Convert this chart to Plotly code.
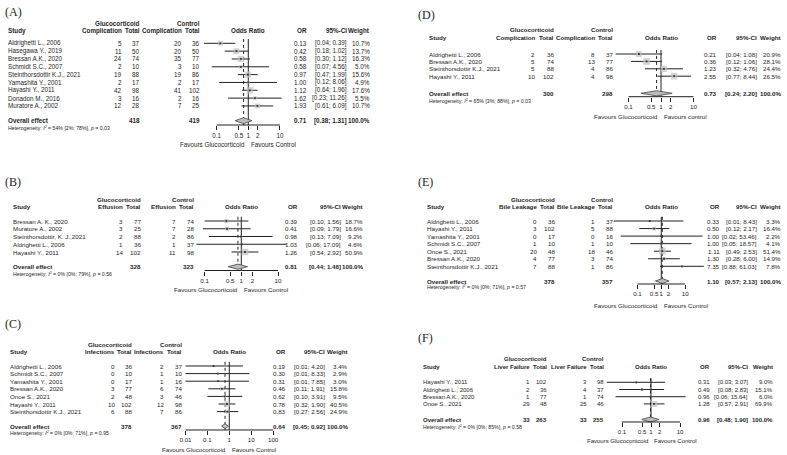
import plotly.graph_objects as go

W, H = 787, 455
SANS = "Liberation Sans, Arial, sans-serif"
SERIF = "Liberation Serif, Times New Roman, serif"
INK = "#1e1e1e"

# ---------------- data ----------------
# (A) Complication
A_study = ["Aldrighetti L., 2006", "Hasegawa Y., 2019", "Bressan A.K., 2020", "Schmidt S.C., 2007",
           "Steinthorsdottir K.J., 2021", "Yamashita Y., 2001", "Hayashi Y., 2011", "Donadon M., 2016",
           "Muratore A., 2002"]
A_gc_events = [5, 11, 24, 2, 19, 2, 42, 3, 12]
A_gc_total = [37, 50, 74, 10, 88, 17, 98, 16, 28]
A_ct_events = [20, 20, 35, 3, 19, 2, 41, 2, 7]
A_ct_total = [36, 50, 77, 10, 86, 17, 102, 16, 25]
A_or = [0.13, 0.42, 0.58, 0.58, 0.97, 1.00, 1.12, 1.62, 1.93]
A_lo = [0.04, 0.18, 0.30, 0.07, 0.47, 0.12, 0.64, 0.23, 0.61]
A_hi = [0.39, 1.02, 1.12, 4.56, 1.99, 8.06, 1.96, 11.26, 6.09]
A_weight = [10.7, 13.7, 16.3, 5.0, 15.6, 4.9, 17.6, 5.5, 10.7]
A_overall = [0.71, 0.38, 1.31]
A_het = [54, 2, 78, 0.03]
A_ticks = [0.1, 0.5, 1, 2, 10]

# (B) Effusion
B_study = ["Bressan A. K., 2020", "Muratore A., 2002", "Steinthorsdottir, K. J.,2021",
           "Aldrighetti L., 2006", "Hayashi Y., 2011"]
B_gc_events = [3, 3, 2, 1, 14]
B_gc_total = [77, 25, 88, 36, 102]
B_ct_events = [7, 7, 2, 1, 11]
B_ct_total = [74, 28, 86, 37, 98]
B_or = [0.39, 0.41, 0.98, 1.03, 1.26]
B_lo = [0.10, 0.09, 0.13, 0.06, 0.54]
B_hi = [1.56, 1.79, 7.09, 17.09, 2.92]
B_weight = [18.7, 16.6, 9.2, 4.6, 50.9]
B_overall = [0.81, 0.44, 1.48]
B_het = [0, 0, 79, 0.56]
B_ticks = [0.1, 0.5, 1, 2, 10]

# (C) Infections
C_study = ["Aldrighetti L., 2006", "Schmidt S.C., 2007", "Yamashita Y., 2001", "Bressan A.K., 2020",
           "Onoe S., 2021", "Hayashi Y., 2011", "Steinthorsdottir K.J., 2021"]
C_gc_events = [0, 0, 0, 3, 2, 10, 6]
C_gc_total = [36, 10, 17, 77, 48, 102, 88]
C_ct_events = [2, 1, 1, 6, 3, 12, 7]
C_ct_total = [37, 10, 16, 74, 46, 98, 86]
C_or = [0.19, 0.30, 0.31, 0.46, 0.62, 0.78, 0.83]
C_lo = [0.01, 0.01, 0.01, 0.11, 0.10, 0.32, 0.27]
C_hi = [4.20, 8.33, 7.85, 1.91, 3.91, 1.90, 2.56]
C_weight = [3.4, 2.9, 3.0, 15.8, 9.5, 40.5, 24.9]
C_overall = [0.64, 0.45, 0.92]
C_het = [0, 0, 71, 0.95]
C_ticks = [0.01, 0.1, 1, 10, 100]

# (D) Complication
D_study = ["Aldrighetti L., 2006", "Bressan A.K., 2020", "Steinthorsdottir K.J., 2021", "Hayashi Y., 2011"]
D_gc_events = [2, 5, 5, 10]
D_gc_total = [36, 74, 88, 102]
D_ct_events = [8, 13, 4, 4]
D_ct_total = [37, 77, 86, 98]
D_or = [0.21, 0.36, 1.23, 2.55]
D_lo = [0.04, 0.12, 0.32, 0.77]
D_hi = [1.08, 1.06, 4.76, 8.44]
D_weight = [20.9, 28.1, 24.4, 26.5]
D_overall = [0.73, 0.24, 2.20]
D_het = [65, 3, 88, 0.03]
D_ticks = [0.1, 0.5, 1, 2, 10]

# (E) Bile Leakage
E_study = ["Aldrighetti L., 2006", "Hayashi Y., 2011", "Yamashita Y., 2001", "Schmidt S.C., 2007",
           "Onoe S., 2021", "Bressan A.K., 2020", "Steinthorsdottir K.J., 2021"]
E_gc_events = [0, 3, 0, 1, 20, 4, 7]
E_gc_total = [36, 102, 17, 10, 48, 77, 88]
E_ct_events = [1, 5, 0, 1, 18, 3, 1]
E_ct_total = [37, 88, 16, 10, 46, 74, 86]
E_or = [0.33, 0.50, 1.00, 1.00, 1.11, 1.30, 7.35]
E_lo = [0.01, 0.12, 0.02, 0.05, 0.49, 0.28, 0.88]
E_hi = [8.43, 2.17, 53.46, 18.57, 2.53, 6.00, 61.03]
E_weight = [3.3, 16.4, 2.2, 4.1, 51.4, 14.9, 7.8]
E_overall = [1.10, 0.57, 2.13]
E_het = [0, 0, 71, 0.57]
E_ticks = [0.1, 0.5, 1, 2, 10]

# (F) Liver Failure
F_study = ["Hayashi Y., 2011", "Aldrighetti L., 2006", "Bressan A.K., 2020", "Onoe S., 2021"]
F_gc_events = [1, 2, 1, 29]
F_gc_total = [102, 36, 77, 48]
F_ct_events = [3, 4, 1, 25]
F_ct_total = [98, 37, 74, 46]
F_or = [0.31, 0.49, 0.96, 1.28]
F_lo = [0.03, 0.08, 0.06, 0.57]
F_hi = [3.07, 2.83, 15.64, 2.91]
F_weight = [9.0, 15.1, 6.0, 69.9]
F_overall = [0.96, 0.48, 1.90]
F_het = [0, 0, 85, 0.58]
F_ticks = [0.1, 0.5, 1, 2, 10]

panels = [
    dict(key="A", label="(A)", event="Complication", study=A_study, ge=A_gc_events, gt=A_gc_total,
         ce=A_ct_events, ct=A_ct_total, orr=A_or, lo=A_lo, hi=A_hi, w=A_weight, overall=A_overall,
         het=A_het, ticks=A_ticks, fav=("Favours Glucocorticoid", "Favours Control"), event_sum=False),
    dict(key="B", label="(B)", event="Effusion", study=B_study, ge=B_gc_events, gt=B_gc_total,
         ce=B_ct_events, ct=B_ct_total, orr=B_or, lo=B_lo, hi=B_hi, w=B_weight, overall=B_overall,
         het=B_het, ticks=B_ticks, fav=("Favours Glucocorticoid", "Favours Control"), event_sum=False),
    dict(key="C", label="(C)", event="Infections", study=C_study, ge=C_gc_events, gt=C_gc_total,
         ce=C_ct_events, ct=C_ct_total, orr=C_or, lo=C_lo, hi=C_hi, w=C_weight, overall=C_overall,
         het=C_het, ticks=C_ticks, fav=("Favours Glucocorticoid", "Favours Control"), event_sum=False),
    dict(key="D", label="(D)", event="Complication", study=D_study, ge=D_gc_events, gt=D_gc_total,
         ce=D_ct_events, ct=D_ct_total, orr=D_or, lo=D_lo, hi=D_hi, w=D_weight, overall=D_overall,
         het=D_het, ticks=D_ticks, fav=("Favours Glucocorticoid", "Favours control"), event_sum=False),
    dict(key="E", label="(E)", event="Bile Leakage", study=E_study, ge=E_gc_events, gt=E_gc_total,
         ce=E_ct_events, ct=E_ct_total, orr=E_or, lo=E_lo, hi=E_hi, w=E_weight, overall=E_overall,
         het=E_het, ticks=E_ticks, fav=("Favours Glucocorticoid", "Favours Control"), event_sum=False),
    dict(key="F", label="(F)", event="Liver Failure", study=F_study, ge=F_gc_events, gt=F_gc_total,
         ce=F_ct_events, ct=F_ct_total, orr=F_or, lo=F_lo, hi=F_hi, w=F_weight, overall=F_overall,
         het=F_het, ticks=F_ticks, fav=("Favours Glucocorticoid", "Favours Control"), event_sum=True),
]

# ---------------- layout (pixel positions) ----------------
POS = {
    "A": dict(lab=(5, 12), fs=6.3, h1=23.3, h2=30.7, row0=43.3, dy=7.83, ov=120.7, het=128.3, axis=125.0,
              fav=144.5, xs=8, xge=122, xgt=140, xce=181.5, xct=200, xor=306.5, xci=347, xw=370,
              mid=248.3, dec=31.65, sq=6.5, dh=3.0),
    "B": dict(lab=(5, 181.7), fs=6.2, h1=199.3, h2=206.7, row0=221, dy=7.75, ov=266.7, het=274, axis=270.5,
              fav=289.3, xs=12.7, xge=123.3, xgt=140.7, xce=176, xct=194, xor=297.7, xci=340.7, xw=362.7,
              mid=241.3, dec=36.7, sq=6.7, dh=2.6),
    "C": dict(lab=(5, 324.3), fs=6.2, h1=344.3, h2=351.7, row0=366, dy=7.6, ov=426.2, het=433.3, axis=430,
              fav=449.5, xs=10, xge=115, xgt=132.3, xce=164, xct=181.7, xor=286, xci=325, xw=348.3,
              mid=229.3, dec=21.9, sq=5.5, dh=2.5),
    "D": dict(lab=(418.3, 15), fs=6.2, h1=30, h2=37, row0=54, dy=7.4, ov=93.3, het=101, axis=96.7,
              fav=116.3, xs=429.3, xge=535, xgt=554, xce=595, xct=613.3, xor=716.7, xci=756.7, xw=780.7,
              mid=661, dec=32.5, sq=6.7, dh=2.6),
    "E": dict(lab=(418.3, 181.7), fs=6.2, h1=199.3, h2=206.7, row0=221, dy=7.55, ov=281, het=287.3, axis=284,
              fav=305.7, xs=427.3, xge=537, xgt=555, xce=595, xct=613.3, xor=720, xci=757.3, xw=781,
              mid=661.3, dec=23.85, sq=6.7, dh=2.5),
    "F": dict(lab=(418.3, 337.7), fs=6.0, h1=359.3, h2=366.7, row0=382.3, dy=7.2, ov=419.5, het=427.3,
              axis=422, fav=441, xs=422.7, xge=529.5, xgt=547, xce=586.5, xct=604, xor=710, xci=748.3,
              xw=772.7, mid=651, dec=29, sq=6.0, dh=2.5),
}

LINE = "#222222"
SQ = "#c2c2c2"
DIA = "#bdbdbd"

fig = go.Figure()
annotations = []


def txt(x, y, s, anchor="left", size=6.2, bold=False, family=SANS):
    if bold:
        s = "<b>" + s + "</b>"
    annotations.append(dict(x=x / W, y=1 - y / H, xref="paper", yref="paper", text=s, showarrow=False,
                            xanchor=anchor, yanchor="middle", borderpad=0, borderwidth=0,
                            font=dict(size=size, family=family, color=INK)))


axes_layout = {}
RNG = 2.3
for k, p in enumerate(panels):
    c = POS[p["key"]]
    sfx = "" if k == 0 else str(k + 1)
    xa, ya = "x" + sfx, "y" + sfx
    n = len(p["study"])
    ys = [c["row0"] + i * c["dy"] for i in range(n)]
    top = c["row0"] - 0.55 * c["dy"]
    est, olo, ohi = p["overall"]
    fs = c["fs"]
    ytop, ybot = max(c["h1"] - 6, 0), min(c["fav"] + 5, H)

    common = dict(xaxis=xa, yaxis=ya, hoverinfo="skip", showlegend=False)
    # null line and overall (dotted) line
    fig.add_trace(go.Scatter(x=[1, 1], y=[top, c["axis"]], mode="lines",
                             line=dict(color=LINE, width=1), **common))
    fig.add_trace(go.Scatter(x=[est, est], y=[top, c["axis"]], mode="lines",
                             line=dict(color=LINE, width=1, dash="dot"), **common))
    # CI lines
    xl, yl = [], []
    for lo, hi, y in zip(p["lo"], p["hi"], ys):
        xl += [lo, hi, None]
        yl += [y, y, None]
    fig.add_trace(go.Scatter(x=xl, y=yl, mode="lines", line=dict(color=LINE, width=1), **common))
    # weight squares
    wmax = max(p["w"])
    sizes = [c["sq"] * (w / wmax) ** 0.5 for w in p["w"]]
    fig.add_trace(go.Scatter(x=p["orr"], y=ys, mode="markers",
                             marker=dict(symbol="square", size=sizes, color=SQ, line=dict(width=0)), **common))
    fig.add_trace(go.Scatter(x=p["orr"], y=ys, mode="markers",
                             marker=dict(symbol="square", size=1.8, color="#333", line=dict(width=0)), **common))
    # diamond
    oy = c["ov"]
    fig.add_trace(go.Scatter(x=[olo, est, ohi, est, olo], y=[oy, oy - c["dh"], oy, oy + c["dh"], oy],
                             mode="lines", fill="toself", fillcolor=DIA,
                             line=dict(color="#444", width=0.8), **common))
    # axis line
    fig.add_trace(go.Scatter(x=[min(p["ticks"]), max(p["ticks"])], y=[c["axis"], c["axis"]], mode="lines",
                             line=dict(color=LINE, width=1), **common))

    axes_layout["xaxis" + sfx] = dict(
        type="log", range=[-RNG, RNG],
        domain=[(c["mid"] - RNG * c["dec"]) / W, (c["mid"] + RNG * c["dec"]) / W],
        anchor="free", position=1 - c["axis"] / H,
        showline=False, showgrid=False, zeroline=False,
        tickmode="array", tickvals=p["ticks"], ticktext=["%g" % t for t in p["ticks"]],
        ticks="outside", ticklen=4, tickwidth=1, tickcolor=LINE, tickangle=0,
        tickfont=dict(size=fs, family=SANS, color=INK), fixedrange=True)
    axes_layout["yaxis" + sfx] = dict(
        range=[ybot, ytop], domain=[1 - ybot / H, 1 - ytop / H], anchor=xa,
        visible=False, fixedrange=True)

    # ---- text ----
    txt(c["lab"][0], c["lab"][1], p["label"], size=12, family=SERIF)
    txt(c["xgt"], c["h1"], "Glucocorticoid", "right", fs, True)
    txt(c["xct"], c["h1"], "Control", "right", fs, True)
    txt(c["xs"], c["h2"], "Study", "left", fs, True)
    txt(c["xge"], c["h2"], p["event"], "right", fs, True)
    txt(c["xgt"], c["h2"], "Total", "right", fs, True)
    txt(c["xce"], c["h2"], p["event"], "right", fs, True)
    txt(c["xct"], c["h2"], "Total", "right", fs, True)
    txt(c["mid"], c["h2"], "Odds Ratio", "center", fs, True)
    txt(c["xor"], c["h2"], "OR", "right", fs, True)
    txt(c["xci"], c["h2"], "95%-CI", "right", fs, True)
    txt(c["xw"], c["h2"], "Weight", "right", fs, True)
    for i in range(n):
        y = ys[i]
        txt(c["xs"], y, p["study"][i], "left", fs)
        txt(c["xge"], y, str(p["ge"][i]), "right", fs)
        txt(c["xgt"], y, str(p["gt"][i]), "right", fs)
        txt(c["xce"], y, str(p["ce"][i]), "right", fs)
        txt(c["xct"], y, str(p["ct"][i]), "right", fs)
        txt(c["xor"], y, "%.2f" % p["orr"][i], "right", fs)
        txt(c["xci"], y, "[%.2f; %.2f]" % (p["lo"][i], p["hi"][i]), "right", fs)
        txt(c["xw"], y, "%.1f%%" % p["w"][i], "right", fs)
    txt(c["xs"], oy, "Overall effect", "left", fs, True)
    if p["event_sum"]:
        txt(c["xge"], oy, str(sum(p["ge"])), "right", fs, True)
        txt(c["xce"], oy, str(sum(p["ce"])), "right", fs, True)
    txt(c["xgt"], oy, str(sum(p["gt"])), "right", fs, True)
    txt(c["xct"], oy, str(sum(p["ct"])), "right", fs, True)
    txt(c["xor"], oy, "%.2f" % est, "right", fs, True)
    txt(c["xci"], oy, "[%.2f; %.2f]" % (olo, ohi), "right", fs, True)
    txt(c["xw"], oy, "100.0%", "right", fs, True)
    i2, i2lo, i2hi, pv = p["het"]
    txt(c["xs"], c["het"],
        "Heterogeneity: <i>I</i><sup>2</sup> = %d%% [%d%%; %d%%], <i>p</i> = %.2f" % (i2, i2lo, i2hi, pv),
        "left", 5.2)
    txt(c["mid"] - 3, c["fav"], p["fav"][0], "right", fs)
    txt(c["mid"] + 3, c["fav"], p["fav"][1], "left", fs)

fig.update_layout(
    width=W, height=H, margin=dict(l=0, r=0, t=0, b=0),
    paper_bgcolor="white", plot_bgcolor="rgba(0,0,0,0)",
    annotations=annotations, showlegend=False,
    **axes_layout,
)

fig.write_html("out.html", config={"displayModeBar": False},
               post_script="document.body.style.margin='0';document.body.style.padding='0';")
